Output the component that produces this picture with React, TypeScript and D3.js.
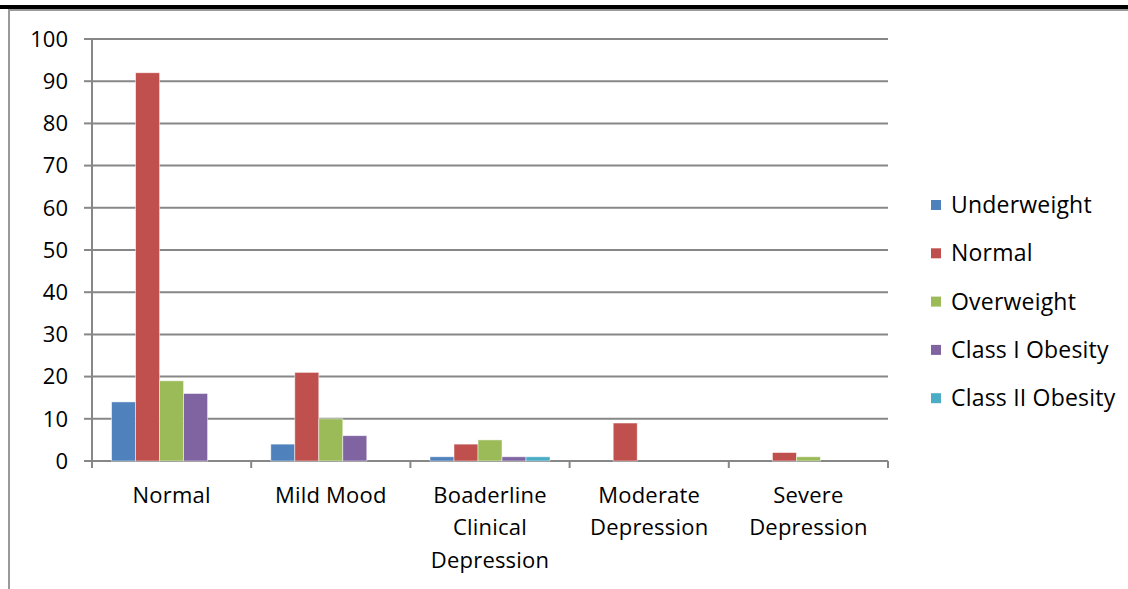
import * as d3 from "d3";

const categories = [
  ["Normal"],
  ["Mild Mood"],
  ["Boaderline", "Clinical", "Depression"],
  ["Moderate", "Depression"],
  ["Severe", "Depression"],
];
const seriesNames = ["Underweight", "Normal", "Overweight", "Class I Obesity", "Class II Obesity"];
const seriesColors = ["#4F81BD", "#C0504D", "#9BBB59", "#8064A2", "#4BACC6"];
// values[series][category]
const underweight = [14, 4, 1, 0, 0];
const normal = [92, 21, 4, 9, 2];
const overweight = [19, 10, 5, 0, 1];
const classI = [16, 6, 1, 0, 0];
const classII = [0, 0, 1, 0, 0];
const values = [underweight, normal, overweight, classI, classII];
const yTicks = [0, 10, 20, 30, 40, 50, 60, 70, 80, 90, 100];

const width = 1128;
const height = 589;
const marginLeft = 92;
const plotRight = 888;
const plotTop = 39;
const plotBottom = 461;
const font = "'Open Sans', sans-serif";

export default function App() {
  const x = d3.scaleBand<number>().domain(d3.range(categories.length)).range([marginLeft, plotRight]);
  const barW = 24;
  const y = d3.scaleLinear([0, 100], [plotBottom, plotTop]);
  const xs = d3.scaleBand<number>()
    .domain(d3.range(seriesNames.length))
    .range([0, barW * seriesNames.length]);
  const groupOffset = (x.bandwidth() - barW * seriesNames.length) / 2;

  return (
    <svg width={width} height={height} style={{ position: "absolute", left: 0, top: 0, background: "#fff" }}>
      {/* page frame */}
      <line x1={0} x2={width} y1={7} y2={7} stroke="#000" strokeWidth={4} />
      <line x1={8} x2={width} y1={10} y2={10} stroke="#999" strokeWidth={2} />
      <line x1={9} x2={9} y1={10} y2={height} stroke="#999" strokeWidth={2} />

      {/* gridlines and y ticks */}
      {yTicks.map((t) => (
        <g key={t}>
          <line x1={marginLeft} x2={plotRight} y1={y(t)} y2={y(t)} stroke="#878787" strokeWidth={2} />
          <line x1={84} x2={marginLeft} y1={y(t)} y2={y(t)} stroke="#878787" strokeWidth={2} />
          <text x={68} y={y(t)} dy="0.35em" textAnchor="end" fontFamily={font} fontSize={22} fill="#000">
            {t}
          </text>
        </g>
      ))}
      <line x1={marginLeft} x2={marginLeft} y1={plotTop} y2={plotBottom + 1} stroke="#878787" strokeWidth={2} />

      {/* x ticks */}
      {d3.range(categories.length + 1).map((i) => {
        const xp = i < categories.length ? x(i)! : plotRight;
        return <line key={i} x1={xp} x2={xp} y1={plotBottom} y2={plotBottom + 7} stroke="#878787" strokeWidth={2} />;
      })}

      {/* bars */}
      {values.map((vals, s) => (
        <g key={s} fill={seriesColors[s]}>
          {vals.map((v, c) =>
            v > 0 ? (
              <rect
                key={c}
                x={x(c)! + groupOffset + xs(s)!}
                y={y(v)}
                width={xs.bandwidth()}
                height={y(0) - y(v)}
                stroke="#fff"
                strokeOpacity={0.6}
                strokeWidth={0.8}
              />
            ) : null
          )}
        </g>
      ))}

      {/* category labels */}
      {categories.map((lines, c) => (
        <text key={c} x={x(c)! + x.bandwidth() / 2} y={495} textAnchor="middle" fontFamily={font} fontSize={22} letterSpacing={0.2} fill="#000">
          {lines.map((l, i) => (
            <tspan key={i} x={x(c)! + x.bandwidth() / 2} dy={i === 0 ? "0.35em" : 32.5}>
              {l}
            </tspan>
          ))}
        </text>
      ))}

      {/* legend */}
      {seriesNames.map((n, s) => {
        const ly = 205 + s * 48.3;
        return (
          <g key={n}>
            <rect x={931} y={ly - 5} width={10} height={10} fill={seriesColors[s]} />
            <text x={951} y={ly} dy="0.35em" fontFamily={font} fontSize={23} letterSpacing={0.2} fill="#000">
              {n}
            </text>
          </g>
        );
      })}
    </svg>
  );
}
